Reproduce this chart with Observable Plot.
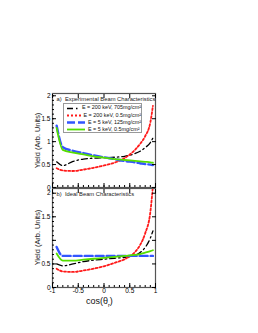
<!DOCTYPE html>
<html><head><meta charset="utf-8">
<script src="https://cdn.jsdelivr.net/npm/d3@7"></script>
<script src="https://cdn.jsdelivr.net/npm/@observablehq/plot@0.6"></script>
<style>
body{margin:0;background:#fff;font-family:"Liberation Sans",Arial,sans-serif;}
#wrap{position:relative;width:258px;height:333px;overflow:hidden;}
.p{position:absolute;left:0;overflow:visible;}
.legend{position:absolute;left:63px;top:103px;width:79px;height:30px;border:1px solid #999;background:#fff;font-size:5.4px;line-height:7.3px;padding-top:0.5px;box-sizing:border-box;color:#111;}
.legend div{display:flex;align-items:center;height:7.2px;white-space:nowrap;}
.legend svg{margin:0 2px 0 2px;}
.xl{position:absolute;top:296px;left:86px;font-size:9px;color:#111;}
.yl{position:absolute;width:80px;left:-3px;text-align:center;font-size:7.4px;color:#222;transform:rotate(-90deg);transform-origin:50% 50%;white-space:nowrap;line-height:9px;}
</style></head><body>
<div id="wrap"></div>
<script>
const cosTheta = [-0.92,-0.8,-0.6,-0.4,-0.2,0,0.2,0.4,0.6,0.7,0.8,0.9,0.95];
const seriesNames = ["E = 200 keV, 705mg/cm²","E = 200 keV, 0.5mg/cm²","E = 5 keV, 125mg/cm²","E = 5 keV, 0.5mg/cm²"];
const yAxisTitle = "Yield (Arb. Units)";
// panel a) experimental
const aBlack = [0.56,0.48,0.57,0.62,0.64,0.65,0.66,0.68,0.74,0.79,0.87,0.98,1.08];
const aRed   = [0.42,0.37,0.36,0.39,0.43,0.48,0.54,0.64,0.82,0.95,1.12,1.42,1.78];
const aBlue  = [1.35,0.88,0.80,0.75,0.70,0.66,0.62,0.58,0.55,0.53,0.51,0.50,0.49];
const aGreen = [1.30,0.82,0.76,0.72,0.68,0.65,0.62,0.60,0.58,0.57,0.56,0.55,0.54];
// panel b) ideal
const bBlack = [0.50,0.46,0.50,0.55,0.58,0.60,0.62,0.64,0.68,0.74,0.85,1.05,1.20];
const bRed   = [0.40,0.34,0.33,0.36,0.40,0.45,0.52,0.60,0.75,0.90,1.15,1.60,2.15];
const bBlue  = [0.86,0.67,0.67,0.67,0.67,0.67,0.67,0.67,0.67,0.67,0.67,0.67,0.67];
const bGreen = [0.72,0.57,0.57,0.59,0.61,0.63,0.65,0.67,0.69,0.71,0.74,0.77,0.79];
const xTicks = [-1,-0.5,0,0.5,1];
const xMinor = d3.range(-1,1.001,0.1).map(v=>+v.toFixed(2));
const yTicks = [0,0.5,1,1.5,2];
const yLabelsA = ["0","0.5","1","1.5","2"];
const yLabelsB = ["0","0.5","","1.5","2"];
const yMinor = d3.range(0,2.01,0.1).map(v=>+v.toFixed(2));

const styles = [
  {stroke:"#000", strokeWidth:1.3, strokeDasharray:"6,3,1.5,3"},
  {stroke:"#ff1a1a", strokeWidth:1.8, strokeDasharray:"2,2"},
  {stroke:"#3355ff", strokeWidth:2.4, strokeDasharray:"8,3"},
  {stroke:"#55dd00", strokeWidth:1.8}
];

function rows(vals){ return cosTheta.map((x,i)=>({x, y: vals[i]})); }

function panel(series, yMax, labels, title, opts){
  const lines = series.map((vals,i)=>Plot.line(rows(vals),{x:"x",y:"y",curve:"monotone-x",clip:true,...styles[i]}));
  return Plot.plot({
    width:258, height:opts.height,
    marginLeft:52, marginRight:103, marginTop:opts.mt, marginBottom:opts.mb,
    style:{fontFamily:"Liberation Sans, Arial, sans-serif", fontSize:"6.5px", background:"transparent", overflow:"visible"},
    x:{domain:[-1,1]},
    y:{domain:[0,yMax]},
    marks:[
      ...lines,
      Plot.frame({stroke:"#555", strokeWidth:1.2}),
      Plot.axisY(yTicks,{anchor:"left", tickSize:-4, tickFormat:(d,i)=>labels[i], tickPadding:6, fontSize:6.5, label:null}),
      Plot.axisY(yMinor,{anchor:"left", tickSize:-2, text:null, label:null}),
      Plot.axisY(yTicks,{anchor:"right", tickSize:-4, text:null, label:null}),
      Plot.axisX(xTicks,{anchor:"bottom", tickSize:-4, tickPadding:5, text: opts.xlabels ? undefined : null, tickFormat:d=>String(d), fontSize:6.5, label:null}),
      Plot.axisX(xMinor,{anchor:"bottom", tickSize:-2, text:null, label:null}),
      Plot.axisX(xTicks,{anchor:"top", tickSize:-4, text:null, label:null}),
      Plot.text([title],{frameAnchor:"top-left", dx:4, dy:3, fontSize:5.8, fill:"#222"})
    ]
  });
}

const wrap = document.getElementById("wrap");
const top1 = panel([aBlack,aRed,aBlue,aGreen], 2.05, yLabelsA, "a)  Experimental Beam Characteristics", {height:188, mt:93, mb:1, xlabels:false});
top1.classList.add("p"); top1.style.top="0px";
wrap.appendChild(top1);
const bot = panel([bBlack,bRed,bBlue,bGreen], 2.1, yLabelsB, "b)  Ideal Beam Characteristics", {height:146, mt:1, mb:46, xlabels:true});
bot.classList.add("p"); bot.style.top="187px";
wrap.appendChild(bot);

[140, 237].forEach(cy=>{
  const d = document.createElement("div"); d.className="yl";
  d.textContent = yAxisTitle;
  d.style.top = (cy-4.5)+"px";
  wrap.appendChild(d);
});

const lg = document.createElement("div"); lg.className="legend";
seriesNames.forEach((n,i)=>{
  const s = styles[i];
  const row = document.createElement("div");
  row.innerHTML = `<svg width="20" height="5"><line x1="1" y1="2.5" x2="19" y2="2.5" stroke="${s.stroke}" stroke-width="${s.strokeWidth}" ${s.strokeDasharray?`stroke-dasharray="${s.strokeDasharray}"`:""}/></svg><span>${n}</span>`;
  lg.appendChild(row);
});
wrap.appendChild(lg);
const xl = document.createElement("div"); xl.className="xl";
xl.innerHTML = "cos(θ<sub style='font-size:5.5px'>r</sub>)";
wrap.appendChild(xl);
</script>
</body></html>
